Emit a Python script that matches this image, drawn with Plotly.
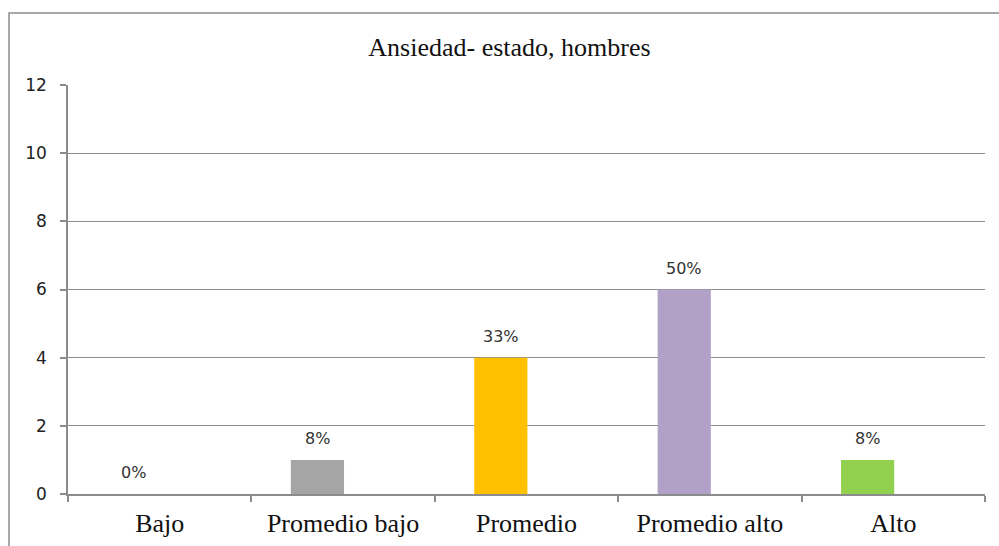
import plotly.graph_objects as go

categories = ["Bajo", "Promedio bajo", "Promedio", "Promedio alto", "Alto"]
values = [0, 1, 4, 6, 1]
labels = ["0%", "8%", "33%", "50%", "8%"]
colors = ["#A5A5A5", "#A5A5A5", "#FFC000", "#B1A0C7", "#92D050"]
y_ticks = [0, 2, 4, 6, 8, 10, 12]

SERIF = "Liberation Serif, Times New Roman, serif"
SANS = "DejaVu Sans, Liberation Sans, sans-serif"

fig = go.Figure()
fig.add_trace(go.Bar(x=categories, y=values, marker=dict(color=colors, line=dict(width=0)),
                     width=0.29, offset=-0.285, hoverinfo="skip"))

for c, v, t in zip(categories, values, labels):
    fig.add_annotation(x=c, y=v, text=t, showarrow=False, yanchor="bottom", yshift=10, xshift=-26,
                       font=dict(family=SANS, size=16, color="#333333"))

fig.add_shape(type="rect", xref="paper", yref="paper", x0=-0.0643, x1=1.05, y0=-0.3, y1=1.176,
              line=dict(color="#8C8C8C", width=1.5), fillcolor="rgba(0,0,0,0)", layer="below")

fig.update_layout(
    width=999, height=546,
    margin=dict(l=68, r=14, t=85, b=52),
    paper_bgcolor="white", plot_bgcolor="white",
    showlegend=False,
    title=dict(text="Ansiedad- estado, hombres", x=0.51, xanchor="center", y=0.915, yanchor="middle",
               font=dict(family=SERIF, size=26, color="#111111")),
    xaxis=dict(showgrid=False, showline=True, linecolor="#8C8C8C", linewidth=1.5, automargin=False,
               ticks="outside", tickson="boundaries", ticklen=6, tickcolor="#8C8C8C", tickwidth=1.5,
               tickfont=dict(family=SERIF, size=26, color="#111111"),
               ticklabelstandoff=5),
    yaxis=dict(range=[0, 12], tickvals=y_ticks, showgrid=True, gridcolor="#8C8C8C", gridwidth=1.2,
               showline=True, linecolor="#8C8C8C", linewidth=1.5, zeroline=False, automargin=False,
               ticks="outside", ticklen=6, tickcolor="#8C8C8C", tickwidth=1.5,
               tickfont=dict(family=SANS, size=17, color="#222222"),
               ticklabelstandoff=10),
)

fig.write_html("out.html")
